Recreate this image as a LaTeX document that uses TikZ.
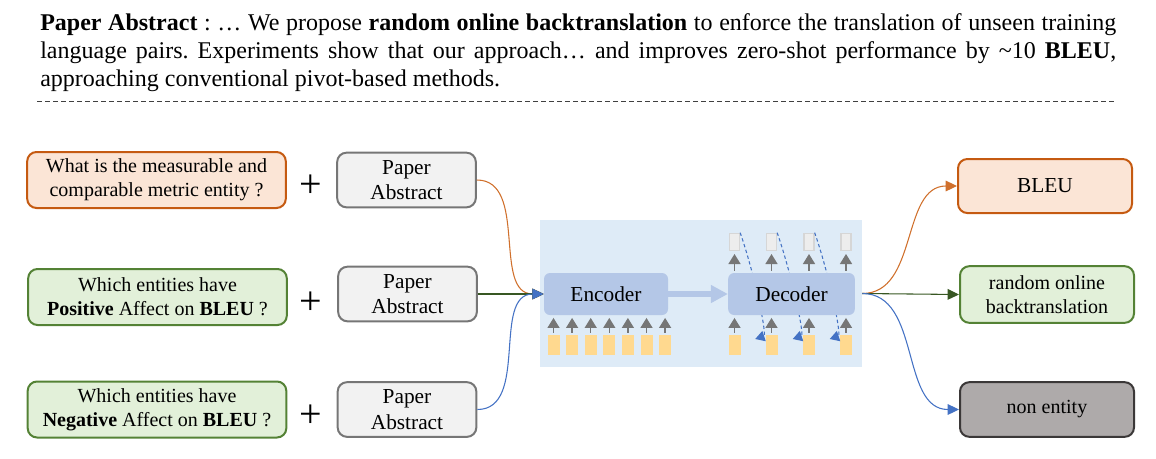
\documentclass[tikz,border=0pt]{standalone}
\usepackage{fontspec}
\setmainfont{Liberation Serif}
\usepackage{tikz}
\usetikzlibrary{arrows,arrows.meta,shapes}
\definecolor{obord}{RGB}{197,90,17}
\definecolor{ofill}{RGB}{251,229,214}
\definecolor{gbord}{RGB}{84,130,53}
\definecolor{gfill}{RGB}{226,240,217}
\definecolor{pbord}{RGB}{118,118,118}
\definecolor{pfill}{RGB}{242,242,242}
\definecolor{nbord}{RGB}{59,56,56}
\definecolor{nfill}{RGB}{174,170,170}
\definecolor{bgblue}{RGB}{222,235,247}
\definecolor{boxblue}{RGB}{180,199,231}
\definecolor{tokyellow}{RGB}{255,217,143}
\definecolor{outgray}{RGB}{237,237,237}
\definecolor{outborder}{RGB}{214,214,214}
\definecolor{arrowgray}{RGB}{118,118,118}
\definecolor{lorange}{RGB}{208,112,44}
\definecolor{lgreen}{RGB}{56,87,35}
\definecolor{lblue}{RGB}{68,114,196}
\frenchspacing
\hyphenpenalty=10000

\begin{document}
\begin{tikzpicture}[x=0.75pt,y=-0.75pt,font=\fontsize{15}{18}\selectfont,node distance=187.5pt]
\useasboundingbox (0,0) rectangle (1156,458);
\tikzstyle{qbox}=[draw,rounded corners=7pt,line width=1.5pt,minimum width=194pt,minimum height=42pt,align=center,inner sep=2pt]
\tikzstyle{orangebox}=[qbox,draw=obord,fill=ofill]
\tikzstyle{greenbox}=[qbox,draw=gbord,fill=gfill]
\tikzstyle{pbox}=[qbox,draw=pbord,fill=pfill,minimum width=104pt,minimum height=41pt,font=\fontsize{16}{19}\selectfont]
\tikzstyle{plus}=[inner sep=0pt,yshift=-5pt,font=\fontsize{30}{30}\selectfont]
\tikzstyle{model}=[fill=boxblue,rounded corners=4.5pt,minimum height=31.5pt,font=\fontsize{16}{19}\selectfont]
\tikzstyle{tok}=[fill=tokyellow,minimum width=9pt,minimum height=15pt,inner sep=0pt]
\tikzstyle{outtok}=[fill=outgray,draw=outborder,line width=1pt,minimum width=7.5pt,minimum height=13pt,inner sep=0pt]
\tikzstyle{tokarrow}=[-{Triangle[length=7.5pt,width=9pt]},draw=arrowgray,line width=1pt,shorten <=1.5pt,shorten >=2pt]
\tikzstyle{link}=[-{Triangle[length=8.5pt,width=8pt]},line width=0.8pt]

   % abstract on top
   \node[anchor=north west,text width=807pt,align=justify,inner sep=0pt,font=\fontsize{18}{21}\selectfont] (abs) at (40,13)
     {\textbf{Paper Abstract} : … We propose \textbf{random online backtranslation} to enforce the translation of unseen training language pairs. Experiments show that our approach… and improves zero-shot performance by \textasciitilde10 \textbf{BLEU}, approaching conventional pivot-based methods.};
   \draw[draw=black!75,line width=0.75pt,dash pattern=on 3.75pt off 2.25pt] (37,101) -- (1116,101);

   % questions + abstracts
   \node[orangebox] (q1) at (156.5,180) {What is the measurable and\\comparable metric entity ?};
   \node[greenbox] (q2) at (157.5,297) {Which entities have\\\textbf{Positive} Affect on \textbf{BLEU} ?};
   \node[greenbox] (q3) at (157,409.5) {Which entities have\\\textbf{Negative} Affect on \textbf{BLEU} ?};
   \node[plus] (p1) [right of = q1, node distance=116pt] {+};
   \node[plus] (p2) [right of = q2, node distance=115pt] {+};
   \node[plus] (p3) [right of = q3, node distance=115.5pt] {+};
   \node[pbox] (pa1) [right of = q1] {Paper\\Abstract};
   \node[pbox] (pa2) [right of = q2, yshift=2.25pt] {Paper\\Abstract};
   \node[pbox] (pa3) [right of = q3] {Paper\\Abstract};

   % encoder-decoder
   \node[fill=bgblue,minimum width=241.5pt,minimum height=110pt] (bg) at (701,293.5) {};
   \node[model,minimum width=93pt] (enc) at (606,294) {Encoder};
   \foreach \i in {1,...,7} {
     \node[tok] (e\i) at ({553.5+18.6*(\i-1)},345) {};
     \draw[tokarrow] (e\i) -- (e\i |- enc.south);
   }
   \foreach \i/\x in {1/734.5,2/771.5,3/809,4/846} {
     \node[tok] (d\i) at (\x,345) {};
     \node[outtok] (o\i) at (\x,242) {};
   }
   \foreach \i/\j in {1/2,2/3,3/4}
     \draw[draw=lblue,line width=0.8pt,dash pattern=on 2.5pt off 2pt,-{Triangle[length=7pt,width=8pt]}]
       (o\i.north east) .. controls +(14,40) and +(12,-4) .. ([xshift=-7.5pt,yshift=4.5pt]d\j.west);
   \node[model,minimum width=95pt] (dec) at (791.5,294) {Decoder};
   \draw[draw=boxblue,line width=5pt,-{Triangle[length=12.75pt,width=12.75pt]}] (enc) -- (dec);
   \foreach \i in {1,...,4} {
     \draw[tokarrow] (d\i) -- (d\i |- dec.south);
     \draw[tokarrow] (o\i |- dec.north) -- (o\i);
   }

   % answers
   \node[orangebox,minimum width=130.5pt,minimum height=40.5pt,font=\fontsize{16}{19}\selectfont] (a1) at (1045,186) {BLEU};
   \node[greenbox,minimum width=130.5pt,minimum height=42.5pt] (a2) at (1047,294.5) {random online\\backtranslation};
   \node[qbox,draw=nbord,fill=nfill,minimum width=130.5pt,minimum height=41pt] (a3) at (1047,409.5) {non entity};

    \path[link]
    (pa1.east) edge [draw=lorange, out=0, in=180] (enc.west)
    (pa2.east) edge [draw=lgreen] (enc.west)
    (pa3.east) edge [draw=lblue, out=0, in=180] (enc.west)
    (bg.east) edge [draw=lorange, out=0, in=180] (a1.west)
      edge [draw=lgreen] (a2.west)
      edge [draw=lblue, out=0, in=180] (a3.west);
\end{tikzpicture}
\end{document}
